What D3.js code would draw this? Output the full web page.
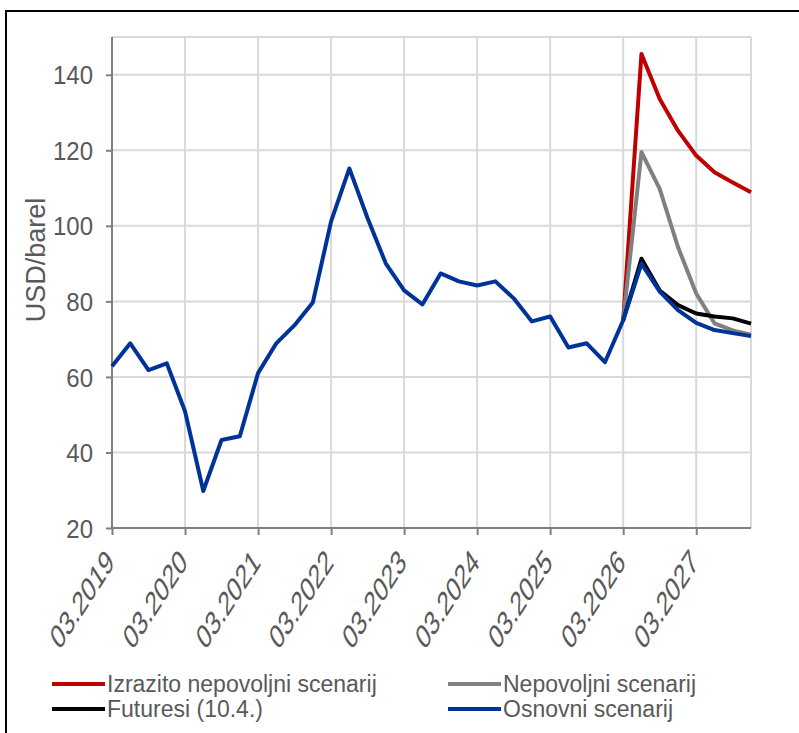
<!DOCTYPE html>
<html><head><meta charset="utf-8">
<script src="https://cdn.jsdelivr.net/npm/d3@7"></script>
<style>
html,body{margin:0;padding:0;background:#fff;}
svg{display:block;font-family:"Liberation Sans",Arial,sans-serif;}
</style></head>
<body><svg id="c" width="799" height="733"></svg>
<script>
const quarters = ["03.2019","06.2019","09.2019","12.2019","03.2020","06.2020","09.2020","12.2020",
"03.2021","06.2021","09.2021","12.2021","03.2022","06.2022","09.2022","12.2022",
"03.2023","06.2023","09.2023","12.2023","03.2024","06.2024","09.2024","12.2024",
"03.2025","06.2025","09.2025","12.2025","03.2026","06.2026","09.2026","12.2026",
"03.2027","06.2027","09.2027","12.2027"];
const tickLabels = ["03.2019","03.2020","03.2021","03.2022","03.2023","03.2024","03.2025","03.2026","03.2027"];
const yTicks = [20,40,60,80,100,120,140];
const osnovni = [62.8,68.9,61.8,63.6,50.9,29.8,43.3,44.3,61.0,68.9,73.7,79.7,101.2,115.2,102.0,90.0,
82.9,79.2,87.4,85.3,84.2,85.3,80.8,74.7,76.0,67.8,68.9,63.9,75.0,90.0,82.6,77.7,74.3,72.4,71.6,70.8];
const scenarioStart = "03.2026";
const izrazito = [75.0,145.5,133.6,125.2,118.6,114.2,111.5,108.9];
const nepovoljni = [75.0,119.5,109.8,94.4,82.1,74.2,72.3,71.2];
const futuresi = [75.0,91.3,82.9,79.0,76.8,76.0,75.5,74.1];
const seriesNames = ["Izrazito nepovoljni scenarij","Nepovoljni scenarij","Futuresi (10.4.)","Osnovni scenarij"];
const seriesColors = ["#c00000","#808080","#000000","#003399"];

const svg = d3.select("#c");
svg.append("path").attr("d","M6,733 V11 H799").attr("fill","none").attr("stroke","#000").attr("stroke-width",2);

const pL=112, pR=751, pT=37, pB=528;
const x = d3.scalePoint().domain(quarters).range([pL,pR]);
const y = d3.scaleLinear().domain([20,150]).range([pB,pT]);

const g = svg.append("g");
g.selectAll(".hg").data(yTicks.slice(1).concat([150])).join("line")
 .attr("x1",pL).attr("x2",pR).attr("y1",d=>y(d)).attr("y2",d=>y(d))
 .attr("stroke","#d9d9d9").attr("stroke-width",2);
g.selectAll(".vg").data(tickLabels.slice(1)).join("line")
 .attr("x1",d=>x(d)).attr("x2",d=>x(d)).attr("y1",pT).attr("y2",pB)
 .attr("stroke","#d9d9d9").attr("stroke-width",2);
g.append("line").attr("x1",pR).attr("x2",pR).attr("y1",pT).attr("y2",pB)
 .attr("stroke","#d9d9d9").attr("stroke-width",2);

const yAxis = d3.axisLeft(y).tickValues(yTicks).tickSize(6).tickPadding(13);
const ya = svg.append("g").attr("transform",`translate(${pL},0)`).call(yAxis);
ya.select(".domain").attr("d",`M0,${pT}V${pB}`).attr("stroke","#808080").attr("stroke-width",2);
ya.selectAll(".tick line").attr("stroke","#808080").attr("stroke-width",2);
ya.selectAll(".tick text").attr("fill","#595959").attr("font-size",24).attr("font-family","Liberation Sans, Arial, sans-serif")
 .attr("transform","scale(1,1.08)").attr("dy","0.35em");

const xAxis = d3.axisBottom(x).tickValues(tickLabels).tickSize(7).tickFormat(d=>d);
const xa = svg.append("g").attr("transform",`translate(0,${pB})`).call(xAxis);
xa.select(".domain").attr("d",`M${pL},0H${pR}`).attr("stroke","#808080").attr("stroke-width",2);
xa.selectAll(".tick line").attr("stroke","#808080").attr("stroke-width",2);
xa.selectAll(".tick text").attr("fill","#595959").attr("font-size",22).attr("font-family","Liberation Sans, Arial, sans-serif")
 .attr("text-anchor","end").attr("dy",null).attr("y",null)
 .attr("transform","translate(3,36) scale(1,1.55) rotate(-45)");

svg.append("text").attr("transform","translate(45,260) rotate(-90)").attr("text-anchor","middle")
 .attr("fill","#595959").attr("font-size",27).text("USD/barel");

const line = d3.line().x(d=>x(d.q)).y(d=>y(d.v)).curve(d3.curveLinear);
const si = quarters.indexOf(scenarioStart);
const mk = arr => arr.map((v,i)=>({q:quarters[si+i],v}));
const data = [mk(izrazito), mk(nepovoljni), mk(futuresi), osnovni.map((v,i)=>({q:quarters[i],v}))];
svg.append("g").selectAll("path").data(data).join("path")
 .attr("d",line).attr("fill","none").attr("stroke",(d,i)=>seriesColors[i])
 .attr("stroke-width",4).attr("stroke-linejoin","round").attr("stroke-linecap","butt");

const legPos = [[52,684],[448,684],[52,709],[448,709]];
const lg = svg.append("g");
[0,1,2,3].forEach((s,k)=>{
  const [lx,ly]=legPos[k];
  lg.append("line").attr("x1",lx).attr("x2",lx+53).attr("y1",ly).attr("y2",ly)
    .attr("stroke",seriesColors[s]).attr("stroke-width",4);
  lg.append("text").attr("x",lx+55).attr("y",ly+8).attr("fill","#595959").attr("font-size",23)
    .text(seriesNames[s]);
});
</script></body></html>
